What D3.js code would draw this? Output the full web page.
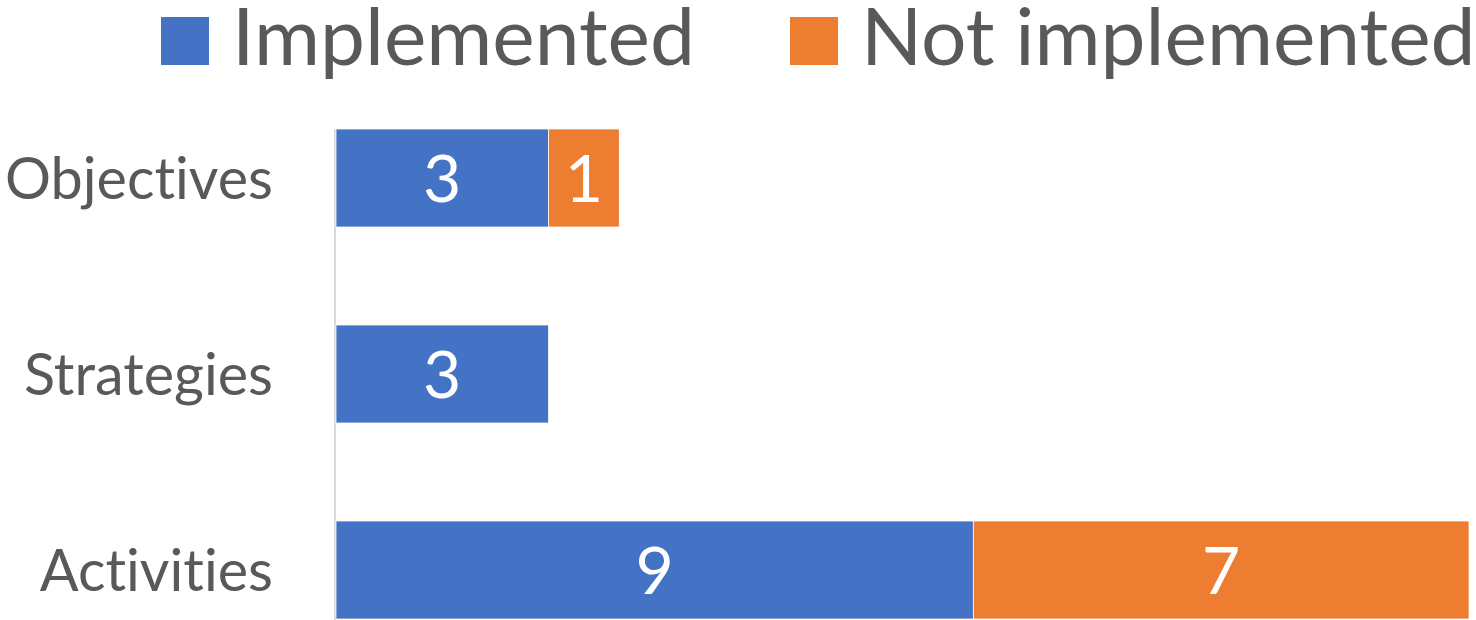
<!DOCTYPE html>
<meta charset="utf-8">
<style>
body { margin: 0; background: #fff; }
text { font-family: Lato, "Open Sans", sans-serif; font-variant-ligatures: none; font-feature-settings: "liga" 0; }
</style>
<svg></svg>
<script src="https://cdn.jsdelivr.net/npm/d3@7"></script>
<script>

var categories = ["Objectives", "Strategies", "Activities"];
var implemented = [3, 3, 9];
var notImplemented = [1, 0, 7];
var seriesNames = ["Implemented", "Not implemented"];
var colors = ["#4472C4", "#ED7D31"];

var width = 1476,
    height = 620;

var svg = d3.select("svg")
    .attr("width", width)
    .attr("height", height);

var rows = categories.map(function(c, i) {
  return { cat: c, values: [implemented[i], notImplemented[i]] };
});

var x = d3.scaleLinear().domain([0, 16]).range([336, 1469]);
var y = d3.scaleBand().domain(categories).range([80, 668])
    .paddingInner(0.5).paddingOuter(0.25);

// font size that makes a text as wide as it is in the picture
function fit(sel, target) {
  var size = 100;
  sel.style("font-size", size + "px");
  var w = sel.node().getComputedTextLength();
  return size * target / w;
}

// axis line
svg.append("line")
    .attr("x1", x(0) - 1).attr("x2", x(0) - 1)
    .attr("y1", y(categories[0])).attr("y2", height)
    .attr("stroke", "#d9d9d9")
    .attr("stroke-width", 2);

var segs = [];
rows.forEach(function(r) {
  var acc = 0;
  r.values.forEach(function(v, k) {
    segs.push({ cat: r.cat, x0: acc, x1: acc + v, v: v, k: k });
    acc += v;
  });
});

svg.append("g").selectAll("rect")
  .data(segs.filter(function(d) { return d.v > 0; }))
  .enter().append("rect")
    .attr("x", function(d) { return x(d.x0); })
    .attr("y", function(d) { return y(d.cat); })
    .attr("width", function(d) { return x(d.x1) - x(d.x0); })
    .attr("height", y.bandwidth())
    .attr("fill", function(d) { return colors[d.k]; })
    .attr("stroke", "#fff")
    .attr("stroke-width", 0.75);

// category labels
var probe = svg.append("text").text("Objectives");
var catSize = fit(probe, 268);
probe.remove();

svg.append("g").selectAll("text")
  .data(categories)
  .enter().append("text")
    .attr("x", 273)
    .attr("y", function(d) { return y(d) + y.bandwidth() / 2; })
    .attr("dy", "0.36em")
    .attr("text-anchor", "end")
    .attr("fill", "#595959")
    .style("font-size", catSize + "px")
    .text(function(d) { return d; });

// value labels
svg.append("g").selectAll("text")
  .data(segs.filter(function(d) { return d.v > 0; }))
  .enter().append("text")
    .attr("x", function(d) { return (x(d.x0) + x(d.x1)) / 2; })
    .attr("y", function(d) { return y(d.cat) + y.bandwidth() / 2; })
    .attr("dy", "0.36em")
    .attr("text-anchor", "middle")
    .attr("fill", "#fff")
    .style("font-size", "66px")
    .text(function(d) { return d.v; });

// legend
var probe2 = svg.append("text").text(seriesNames[0]);
var legSize = fit(probe2, 463);
probe2.remove();

var legX = [161, 790];
var legend = svg.append("g").selectAll("g")
  .data(seriesNames)
  .enter().append("g")
    .attr("transform", function(d, i) { return "translate(" + legX[i] + ",0)"; });

legend.append("rect")
    .attr("x", 0).attr("y", 17)
    .attr("width", 48).attr("height", 48)
    .attr("fill", function(d, i) { return colors[i]; });

legend.append("text")
    .attr("x", 71)
    .attr("y", 65)
    .attr("fill", "#595959")
    .style("font-size", legSize + "px")
    .text(function(d) { return d; });

</script>
